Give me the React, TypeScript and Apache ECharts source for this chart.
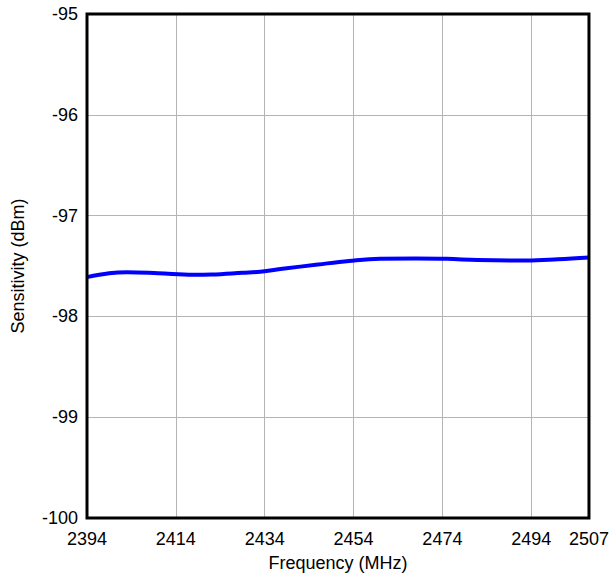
import React, { useEffect, useRef } from "react";
import * as echarts from "echarts";

const X_START = 2394;
const X_END = 2507;
const xTickStep = 20;
const frequencies = [2394, 2399, 2403, 2410, 2418, 2422, 2429, 2433, 2438, 2446, 2453, 2460, 2468, 2475, 2482, 2493, 2500, 2507];
const sensitivity = [-97.61, -97.572, -97.562, -97.572, -97.588, -97.585, -97.567, -97.556, -97.528, -97.485, -97.45, -97.428, -97.426, -97.429, -97.44, -97.445, -97.433, -97.415];
const yMin = -100;
const yMax = -95;

export default function App() {
  const ref = useRef<HTMLDivElement>(null);
  useEffect(() => {
    if (!ref.current) return;
    const chart = echarts.init(ref.current, null, { renderer: "svg" });
    const font = "'Liberation Sans', Arial, sans-serif";
    chart.setOption({
      animation: false,
      backgroundColor: "#ffffff",
      grid: {
        left: 87,
        right: 20,
        top: 14,
        bottom: 58,
        show: true,
        borderColor: "#000000",
        borderWidth: 3,
        backgroundColor: "transparent",
        z: 3,
      },
      xAxis: {
        type: "value",
        min: 0,
        max: X_END - X_START,
        interval: xTickStep,
        name: "Frequency (MHz)",
        nameLocation: "middle",
        nameGap: 36,
        nameTextStyle: { fontFamily: font, fontSize: 18, color: "#000" },
        axisLine: { show: false },
        axisTick: { show: false },
        axisLabel: {
          fontFamily: font,
          fontSize: 18,
          color: "#000",
          margin: 12,
          showMaxLabel: true,
          showMinLabel: true,
          formatter: (v: number) => String(Math.round(v + X_START)),
        },
        splitLine: { show: true, lineStyle: { color: "#b4b4b4", width: 1 } },
      },
      yAxis: {
        type: "value",
        min: yMin,
        max: yMax,
        interval: 1,
        name: "Sensitivity (dBm)",
        nameLocation: "middle",
        nameGap: 60,
        nameTextStyle: { fontFamily: font, fontSize: 18, color: "#000" },
        axisLine: { show: false },
        axisTick: { show: false },
        axisLabel: { fontFamily: font, fontSize: 18, color: "#000", margin: 9 },
        splitLine: { show: true, lineStyle: { color: "#b4b4b4", width: 1 } },
      },
      series: [
        {
          type: "line",
          data: frequencies.map((f, i) => [f - X_START, sensitivity[i]]),
          smooth: 0.4,
          showSymbol: false,
          symbol: "none",
          lineStyle: { color: "#0000ff", width: 4 },
          z: 2,
        },
      ],
    });
    return () => chart.dispose();
  }, []);
  return (
    <div
      ref={ref}
      style={{ position: "absolute", left: 0, top: 0, width: 612, height: 577 }}
    />
  );
}
